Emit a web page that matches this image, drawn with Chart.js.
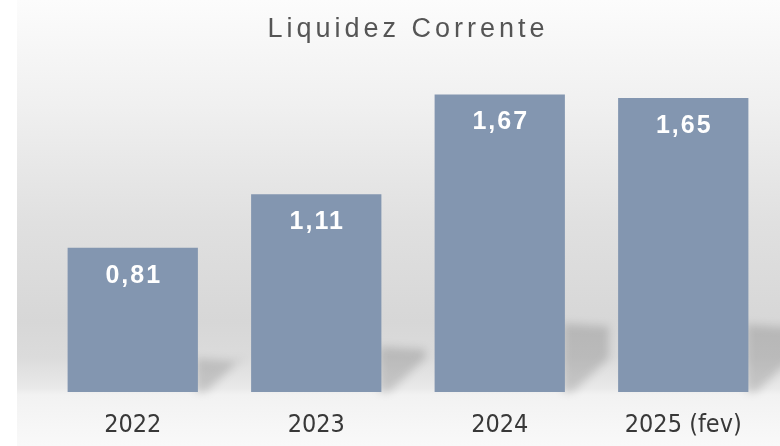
<!DOCTYPE html>
<html>
<head>
<meta charset="utf-8">
<script src="https://cdn.jsdelivr.net/npm/chart.js@4.4.1/dist/chart.umd.min.js"></script>
<style>
    html, body { margin: 0; padding: 0; background: #fff; }
    #wrap { width: 780px; height: 446px; }
</style>
</head>
<body>
<div id="wrap"><canvas id="liqChart"></canvas></div>
<script>
const chartTitle = 'Liquidez Corrente';
const years = ['2022', '2023', '2024', '2025 (fev)'];
const liquidez = [0.81, 1.11, 1.67, 1.65];

const barColor = '#8396b0';

// gradient panel, spaced title, shadows and value labels
const panelBg = {
    id: 'panelBg',
    afterInit(chart) {
        const tb = chart.titleBlock;
        if (tb && !tb._spaced) {
            const orig = tb.draw.bind(tb);
            tb.draw = function () {
                chart.ctx.save();
                chart.ctx.letterSpacing = '4px';
                orig();
                chart.ctx.restore();
            };
            tb._spaced = true;
        }
    },
    beforeDraw(chart) {
        const ctx = chart.ctx;
        const h = chart.height;
        const g = ctx.createLinearGradient(0, 0, 0, h);
        g.addColorStop(0, '#fcfcfc');
        g.addColorStop(0.25, '#efefef');
        g.addColorStop(0.5, '#e0e0e0');
        g.addColorStop(0.72, '#d7d7d7');
        g.addColorStop(0.8, '#dbdbdb');
        g.addColorStop(0.87, '#e9e9e9');
        g.addColorStop(0.885, '#f2f2f2');
        g.addColorStop(1, '#f9f9f9');
        ctx.save();
        ctx.fillStyle = g;
        ctx.fillRect(17, 0, chart.width - 17, h);
        ctx.restore();
    },
    beforeDatasetsDraw(chart) {
        const ctx = chart.ctx;
        const meta = chart.getDatasetMeta(0);
        ctx.save();
        ctx.filter = 'blur(4px)';
        ctx.fillStyle = 'rgba(0,0,0,0.15)';
        meta.data.forEach(bar => {
            const r = bar.x + bar.width / 2;
            const b = bar.base;
            const sh = (b - bar.y) * 0.23;
            ctx.beginPath();
            ctx.moveTo(r - 2, b - sh);
            ctx.lineTo(r + 44, b - sh + 3);
            ctx.lineTo(r + 44, b - 34);
            ctx.lineTo(r + 8, b);
            ctx.lineTo(r - 2, b);
            ctx.closePath();
            ctx.fill();
        });
        ctx.restore();
    },
    afterDatasetsDraw(chart) {
        const ctx = chart.ctx;
        const meta = chart.getDatasetMeta(0);
        ctx.save();
        ctx.font = 'bold 25px "Liberation Sans", Arial, sans-serif';
        ctx.letterSpacing = '2px';
        ctx.fillStyle = '#ffffff';
        ctx.textAlign = 'center';
        ctx.textBaseline = 'middle';
        meta.data.forEach((bar, i) => {
            const txt = liquidez[i].toFixed(2).replace('.', ',');
            ctx.fillText(txt, bar.x + 1, bar.y + 28);
        });
        ctx.restore();
    }
};

new Chart(document.getElementById('liqChart'), {
    type: 'bar',
    data: {
        labels: years,
        datasets: [{
            data: liquidez,
            backgroundColor: barColor,
            borderWidth: 0,
            barPercentage: 0.71,
            categoryPercentage: 1
        }]
    },
    options: {
        responsive: true,
        maintainAspectRatio: false,
        animation: false,
        layout: { padding: { left: 41, right: 5, top: 0, bottom: -12 } },
        plugins: {
            legend: { display: false },
            tooltip: { enabled: false },
            title: {
                display: true,
                text: chartTitle,
                color: '#555555',
                font: { family: '"Liberation Sans", Arial, sans-serif', size: 27, weight: 'normal' },
                padding: { top: 13, bottom: 26 }
            }
        },
        scales: {
            y: {
                display: false,
                min: 0,
                max: 1.8
            },
            x: {
                grid: { display: false, drawTicks: false },
                border: { display: false },
                ticks: {
                    color: '#383838',
                    padding: 18,
                    font: { family: '"Liberation Sans Narrow", "DejaVu Sans Condensed", Arial, sans-serif', size: 25 }
                }
            }
        }
    },
    plugins: [panelBg]
});
</script>
</body>
</html>
